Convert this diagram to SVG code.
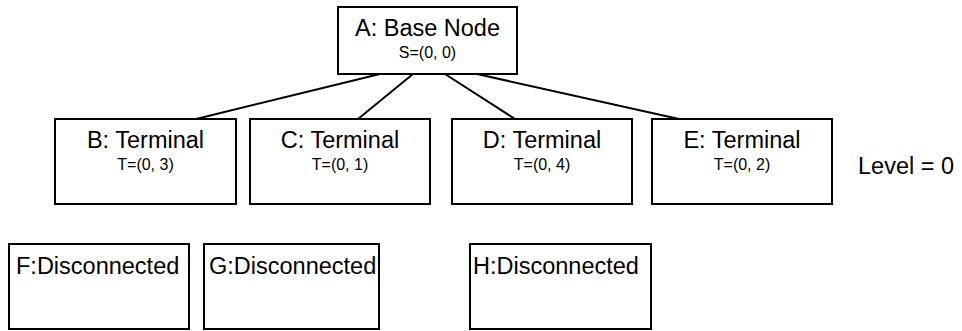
<svg xmlns="http://www.w3.org/2000/svg" width="962" height="331" viewBox="0 0 962 331">
<style>
.box{fill:#fff;stroke:#000;stroke-width:2}
.t{font-family:"Liberation Sans",Arial,sans-serif;fill:#000}
.title{font-size:23.5px;text-anchor:middle}
.sub{font-size:16px;text-anchor:middle}
.dis{font-size:23.5px}
.edge{stroke:#000;stroke-width:2;fill:none}
</style>
<rect width="962" height="331" fill="#fff"/>
<g id="connectors">
<line class="edge" x1="380" y1="74" x2="196" y2="119"/>
<line class="edge" x1="413" y1="74" x2="358" y2="119"/>
<line class="edge" x1="445" y1="74" x2="515" y2="119"/>
<line class="edge" x1="477" y1="74" x2="679" y2="119"/>
</g>
<g id="A">
<rect class="box" x="338" y="7" width="179" height="67"/>
<text class="t title" x="427.5" y="36">A: Base Node</text>
<text class="t sub" x="427.5" y="58">S=(0, 0)</text>
</g>
<g id="B">
<rect class="box" x="55" y="119" width="181" height="85"/>
<text class="t title" x="145.5" y="148">B: Terminal</text>
<text class="t sub" x="145.5" y="170">T=(0, 3)</text>
</g>
<g id="C">
<rect class="box" x="250" y="119" width="180" height="85"/>
<text class="t title" x="340" y="148">C: Terminal</text>
<text class="t sub" x="340" y="170">T=(0, 1)</text>
</g>
<g id="D">
<rect class="box" x="452" y="119" width="180" height="85"/>
<text class="t title" x="542" y="148">D: Terminal</text>
<text class="t sub" x="542" y="170">T=(0, 4)</text>
</g>
<g id="E">
<rect class="box" x="652" y="119" width="180" height="85"/>
<text class="t title" x="742" y="148">E: Terminal</text>
<text class="t sub" x="742" y="170">T=(0, 2)</text>
</g>
<g id="level">
<text class="t" x="858" y="174" font-size="23.5">Level = 0</text>
</g>
<g id="F">
<rect class="box" x="9" y="244" width="180" height="85"/>
<text class="t dis" x="16" y="274">F:Disconnected</text>
</g>
<g id="G">
<rect class="box" x="204" y="244" width="175" height="85"/>
<text class="t dis" x="209" y="274">G:Disconnected</text>
</g>
<g id="H">
<rect class="box" x="470" y="244" width="181" height="85"/>
<text class="t dis" x="473" y="274">H:Disconnected</text>
</g>
</svg>
